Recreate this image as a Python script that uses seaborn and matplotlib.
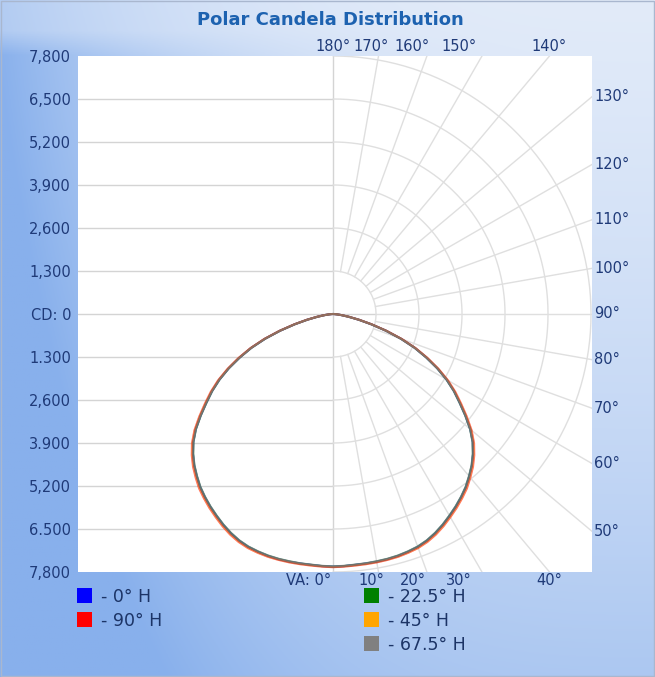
import numpy as np
import pandas as pd
import matplotlib
matplotlib.use("Agg")
import matplotlib.pyplot as plt
from matplotlib.patches import Rectangle
import seaborn as sns

# vertical angles (deg from nadir) and candela values per horizontal plane
vertical_angles = [i * 2.5 for i in range(37)]
cd_0h = [7640, 7630, 7615, 7610, 7605, 7595, 7575, 7540, 7495, 7420, 7315, 7190, 7050, 6910, 6760, 6600,
         6410, 6215, 5990, 5735, 5420, 5050, 4680, 4340, 3970, 3560, 3120, 2680, 2190, 1680, 1200, 800,
         480, 260, 120, 40, 0]
cd_22h = [7635, 7625, 7610, 7605, 7595, 7585, 7565, 7530, 7485, 7410, 7305, 7180, 7040, 6900, 6750, 6590,
          6400, 6205, 5980, 5725, 5410, 5040, 4670, 4330, 3960, 3550, 3110, 2670, 2180, 1670, 1190, 790,
          475, 255, 115, 40, 0]
cd_45h = [7650, 7640, 7630, 7625, 7620, 7610, 7595, 7565, 7525, 7450, 7350, 7225, 7085, 6945, 6795, 6635,
          6445, 6250, 6025, 5770, 5455, 5085, 4715, 4370, 4000, 3590, 3150, 2700, 2210, 1700, 1215, 810,
          490, 265, 125, 42, 0]
cd_67h = [7630, 7620, 7605, 7600, 7590, 7580, 7560, 7525, 7480, 7405, 7300, 7175, 7035, 6895, 6745, 6585,
          6395, 6200, 5975, 5720, 5405, 5035, 4665, 4325, 3955, 3545, 3105, 2665, 2175, 1665, 1185, 785,
          470, 250, 110, 38, 0]
cd_90h = [7655, 7645, 7635, 7630, 7625, 7615, 7600, 7570, 7530, 7460, 7360, 7235, 7095, 6955, 6805, 6650,
          6460, 6265, 6040, 5785, 5470, 5100, 4730, 4385, 4015, 3600, 3160, 2710, 2220, 1705, 1220, 815,
          495, 270, 125, 42, 0]

# draw order: the last ones end up on top
series_names = ["0° H", "22.5° H", "90° H", "45° H", "67.5° H"]
series_values = [cd_0h, cd_22h, cd_90h, cd_45h, cd_67h]
series_colors = ["#0000ff", "#008000", "#ff0000", "#ffa500", "#808080"]
series_alpha = [1.0, 0.6, 0.55, 0.35, 0.65]

cd_ticks = [7800, 6500, 5200, 3900, 2600, 1300, 0, -1300, -2600, -3900, -5200, -6500, -7800]
cd_tick_labels = ["7,800", "6,500", "5,200", "3,900", "2,600", "1,300", "CD: 0",
                  "1.300", "2,600", "3.900", "5,200", "6.500", "7,800"]
top_angles = [180, 170, 160, 150, 140]
right_angles = [130, 120, 110, 100, 90, 80, 70, 60, 50]
bottom_angles = [0, 10, 20, 30, 40]

R = 7800
XMIN, XMAX = -7710, 7830
LABEL_C = "#1f3a78"

# long table: left half mirrors each plane, right half as measured
rows = []
for name, vals in zip(series_names, series_values):
    lookup = dict(zip(vertical_angles, vals))
    signed = [-a for a in vertical_angles[::-1][:-1]] + vertical_angles
    for i, s in enumerate(signed):
        cd = lookup[abs(s)]
        t = np.radians(s)
        rows.append({"series": name, "order": i, "x": cd * np.sin(t), "y": -cd * np.cos(t)})
df = pd.DataFrame(rows)

sns.set_style("white")
fig = plt.figure(figsize=(6.55, 6.77), dpi=100)

# blue gradient frame
bg = fig.add_axes([0, 0, 1, 1], zorder=-5)
gx, gy = np.meshgrid(np.linspace(0, 1, 300), np.linspace(0, 1, 300))
left_term = 0.95 * (1 - gx) ** 3 * np.clip(gy / 0.08, 0.55, 1)
w = np.clip(left_term + 0.35 * gy + 0.25 * gy ** 2, 0, 1)[..., None]
light = np.array([226, 235, 249]) / 255
blue = np.array([136, 176, 236]) / 255
bg.imshow(light * (1 - w) + blue * w, extent=[0, 1, 0, 1], aspect="auto", origin="upper")
bg.add_patch(Rectangle((0.002, 0.002), 0.996, 0.996, fill=False, ec="#a9b7cf", lw=1))
bg.set_xlim(0, 1)
bg.set_ylim(0, 1)
bg.axis("off")

ax = fig.add_axes([78 / 655, 105 / 677, 514 / 655, 516 / 677])
ax.set_facecolor("white")
ax.set_xlim(XMIN, XMAX)
ax.set_ylim(-R, R)

# left half: horizontal lines
for k in range(-5, 6):
    ax.plot([XMIN, 0 if k else 1300], [k * 1300, k * 1300], color="#d4d4d4", lw=1.0, zorder=1)
ax.plot([0, 0], [-R, R], color="#d4d4d4", lw=1.0, zorder=1)
# right half: arcs and radial spokes
grid_kw = dict(color="#dfdfdf", lw=1.0, zorder=1)
th = np.radians(np.linspace(0, 180, 181))
for k in range(1, 7):
    r = k * 1300
    ax.plot(r * np.sin(th), -r * np.cos(th), **grid_kw)
for a in range(10, 180, 10):
    t = np.radians(a)
    ax.plot([1300 * np.sin(t), 14000 * np.sin(t)], [-1300 * np.cos(t), -14000 * np.cos(t)], **grid_kw)

for name, color, alpha in zip(series_names, series_colors, series_alpha):
    sns.lineplot(data=df[df["series"] == name], x="x", y="y", color=color, sort=False,
                 estimator=None, linewidth=1.5, alpha=alpha, ax=ax, zorder=3)

for s in ax.spines.values():
    s.set_visible(False)
ax.set_xlabel("")
ax.set_ylabel("")
ax.set_xticks([])
ax.set_yticks(cd_ticks)
ax.set_yticklabels(cd_tick_labels)
ax.tick_params(axis="y", length=0, pad=5, labelsize=10.5, labelcolor=LABEL_C)

# angle labels around the frame
px = 2 * R / 516
for a in top_angles:
    t = np.radians(a)
    h = 6600 if a > 145 else R
    x = h * np.sin(t) / -np.cos(t)
    ax.text(x, R + 2 * px, f"{a}°", ha="center", va="bottom", fontsize=10.5, color=LABEL_C)
for a in bottom_angles:
    t = np.radians(a)
    h = 6600 if a < 35 else R
    x = h * np.tan(t)
    if a == 0:
        ax.text(-2 * px, -R - px, "VA: 0°", ha="right", va="top", fontsize=10.5, color=LABEL_C)
    else:
        ax.text(x, -R - px, f"{a}°", ha="center", va="top", fontsize=10.5, color=LABEL_C)
for a in right_angles:
    t = np.radians(a)
    y = -XMAX * np.cos(t) / np.sin(t)
    ax.text(XMAX + 2 * px, y, f"{a}°", ha="left", va="center", fontsize=10.5, color=LABEL_C)

fig.text(330 / 655, 1 - 20 / 677, "Polar Candela Distribution", ha="center", va="center",
         fontsize=13, fontweight="bold", color="#1d62b0")

# legend, two columns
legend_pos = {"0° H": (77, 588), "90° H": (77, 612), "22.5° H": (364, 588),
              "45° H": (364, 612), "67.5° H": (364, 636)}
for name in ["0° H", "90° H", "22.5° H", "45° H", "67.5° H"]:
    color = series_colors[series_names.index(name)]
    lx, ly = legend_pos[name]
    fig.patches.append(Rectangle((lx / 655, 1 - (ly + 15) / 677), 15 / 655, 15 / 677,
                                 transform=fig.transFigure, fc=color, ec="none", figure=fig))
    fig.text((lx + 24) / 655, 1 - (ly + 9) / 677, f"- {name}", ha="left", va="center",
             fontsize=12.5, color="#1c3466")

fig.savefig("out.png", dpi=100)
